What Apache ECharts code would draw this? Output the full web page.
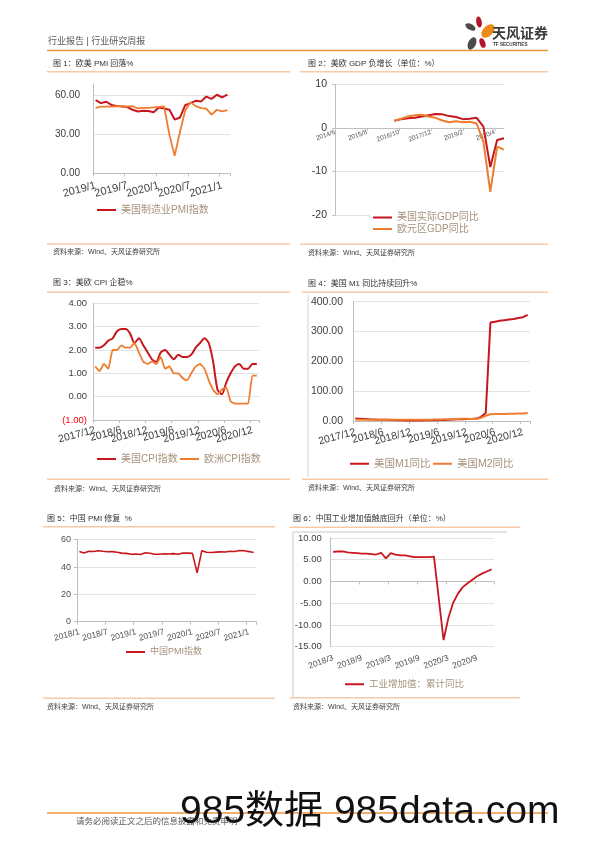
<!DOCTYPE html>
<html><head><meta charset="utf-8">
<script src="https://cdn.jsdelivr.net/npm/echarts@6/dist/echarts.min.js"></script>
<style>html,body{margin:0;padding:0;background:#fff}#c{width:596px;height:842px}</style>
</head><body><div id="c"></div>
<script>
function monthRange(y, m, n) { var out = []; for (var i = 0; i < n; i++) { out.push(y + '/' + m); m++; if (m > 12) { m = 1; y++; } } return out; }

// ---- Chart 1: US / Euro PMI ----
var pmiMonths = monthRange(2019, 1, 26);
var usIsmPmi = [56.6,54.2,55.3,52.8,52.1,51.7,51.2,49.1,47.8,48.3,48.1,47.2,50.9,50.1,49.1,41.5,43.1,52.6,54.2,56.0,55.4,59.3,57.5,60.7,58.7,60.8];
var euroPmi  = [50.5,51.5,51.5,51.5,51.8,52.0,51.5,51.9,50.1,50.6,50.6,50.9,51.3,51.6,29.7,13.6,31.9,48.5,54.9,51.9,50.4,50.0,45.3,49.1,47.8,48.8];

// ---- Chart 2: GDP YoY (quarterly, placed on a monthly axis) ----
var gdpMonths = monthRange(2014, 6, 75);
var gdpFirstMonth = '2016/8';
var gdpTickLabels = ['2014/6', '2015/8', '2016/10', '2017/12', '2019/2', '2020/4'];
var usGdpQ = [1.6,2.0,2.2,2.3,2.6,2.9,3.2,3.1,2.7,2.5,2.0,2.1,2.3,0.3,-9.0,-2.8,-2.4];
var euGdpQ = [1.7,2.1,2.6,2.9,3.0,2.6,2.3,1.7,1.3,1.5,1.3,1.4,1.0,-3.2,-14.7,-4.3,-5.0];

// ---- Chart 3: CPI ----
var cpiMonths = monthRange(2017, 12, 38);
var usCpi = [2.1,2.1,2.2,2.4,2.5,2.8,2.9,2.9,2.7,2.3,2.5,2.2,1.9,1.6,1.5,1.9,2.0,1.8,1.6,1.8,1.7,1.7,1.8,2.1,2.3,2.5,2.3,1.5,0.3,0.1,0.6,1.0,1.3,1.4,1.2,1.2,1.4,1.4];
var euCpi = [1.3,1.1,1.4,1.2,2.0,2.0,2.2,2.1,2.1,2.3,1.9,1.5,1.4,1.5,1.4,1.7,1.2,1.3,1.0,1.0,0.8,0.7,1.0,1.3,1.4,1.2,0.7,0.3,0.1,0.3,0.4,-0.2,-0.3,-0.3,-0.3,-0.3,0.9,0.9];

// ---- Chart 4: M1 / M2 ----
var moneyMonths = monthRange(2017, 12, 38);
var usM1 = [8.5,7.5,6.5,5.5,5.0,4.5,4.0,3.8,3.5,2.8,2.5,2.0,2.2,2.0,1.8,2.2,2.5,2.8,3.2,3.5,4.5,5.0,5.5,6.0,6.5,7.0,8.0,14.0,27.0,330,333,336,338,340,342,345,348,356];
var usM2 = [5.0,4.5,4.3,4.0,4.0,4.0,4.0,4.0,3.8,3.8,3.8,4.0,4.0,4.0,4.2,4.3,4.5,4.8,5.0,5.5,6.2,6.5,7.0,7.5,7.5,7.0,7.5,10.5,17.5,22.5,23.5,23.5,23.5,24.0,24.5,25.0,25.5,26.5];

// ---- Chart 5: China PMI ----
var cnMonths = monthRange(2018, 1, 38);
var cnPmi = [51.3,50.3,51.5,51.4,51.9,51.5,51.2,51.3,50.8,50.2,50.0,49.4,49.5,49.2,50.5,50.1,49.4,49.4,49.7,49.5,49.8,49.3,50.2,50.2,50.0,35.7,52.0,50.8,50.6,50.9,51.1,51.0,51.5,51.4,52.1,51.9,51.3,50.6];

// ---- Chart 6: China industrial value added, cumulative YoY ----
var ipMonths = monthRange(2018, 3, 34);
var cnIp = [6.8,6.9,6.9,6.7,6.6,6.5,6.4,6.4,6.3,6.2,6.6,5.3,6.5,6.2,6.0,6.0,5.8,5.6,5.6,5.6,5.6,5.7,null,-13.5,-8.4,-4.9,-2.8,-1.3,-0.4,0.4,1.2,1.8,2.3,2.8];

function placeQuarterly(cats, first, vals) {
  var arr = cats.map(function () { return null; });
  var start = cats.indexOf(first);
  vals.forEach(function (v, k) { arr[start + 3 * k] = v; });
  return arr;
}

var FONT = "'Liberation Sans', Arial, 'Noto Sans CJK SC', sans-serif";
var RED = '#c8161e', ORANGE = '#ee7d2e';
var AXIS = '#bfbfbf', GRIDC = '#e2e2e2', LAB = '#404040', LEG = '#a6927b';
var PEACH = '#f8c9a6', HEADOR = '#f0953c';

var grids = [
  { left: 93, top: 84, width: 137, height: 89.3 },
  { left: 335, top: 84.3, width: 169, height: 130.7 },
  { left: 93, top: 303.3, width: 166, height: 116.7 },
  { left: 353, top: 301.7, width: 177, height: 119.3 },
  { left: 77, top: 539.7, width: 179, height: 82 },
  { left: 330.7, top: 538, width: 163.3, height: 108.7 }
];

// main category axis: line, ticks every 6 months, labels on one half of the 6-month ticks
function xCat(gi, cats, opt) {
  return {
    type: 'category', gridIndex: gi, data: cats, boundaryGap: opt.bg !== false, position: 'bottom',
    offset: opt.offset || 0,
    axisLine: { onZero: !!opt.zeroIdx || opt.zeroIdx === 0, onZeroAxisIndex: opt.zeroIdx, lineStyle: { color: AXIS, width: 1 } },
    axisTick: { show: true, interval: opt.tickIv, length: 3, lineStyle: { color: AXIS } },
    axisLabel: { interval: opt.labIv, rotate: opt.rot, fontSize: opt.fs, color: opt.color || LAB, margin: opt.margin,
      fontFamily: FONT, hideOverlap: false },
    splitLine: { show: false }
  };
}
// overlay axis carrying the other half of the labels (so overlapping rotated labels all stay visible)
function xOverlay(gi, cats, opt) {
  var a = xCat(gi, cats, opt);
  a.axisLine.show = false;
  a.axisTick.show = false;
  a.axisLabel.interval = opt.labIv2;
  return a;
}
function yVal(gi, min, max, iv, fmt, opt) {
  return {
    type: 'value', gridIndex: gi, min: min, max: max, interval: iv,
    axisLine: { show: true, onZero: false, lineStyle: { color: AXIS, width: 1 } },
    axisTick: { show: !!opt.tick, length: 3, lineStyle: { color: AXIS } },
    axisLabel: { formatter: fmt, fontSize: opt.fs, color: opt.color || LAB, margin: opt.margin, showMaxLabel: opt.showMax !== false, fontFamily: FONT },
    splitLine: { show: true, showMaxLine: opt.showMax !== false, lineStyle: { color: GRIDC, width: 1 } }
  };
}
function fix2(v) { return Number(v).toFixed(2); }
function line(name, xi, yi, data, color, w, extra) {
  var s = { type: 'line', name: name, xAxisIndex: xi, yAxisIndex: yi, data: data, symbol: 'none',
    lineStyle: { color: color, width: w }, itemStyle: { color: color }, connectNulls: true, z: 3 };
  for (var k in (extra || {})) s[k] = extra[k];
  return s;
}
function leg(name, left, top, fs, extra) {
  var l = { data: [name], left: left, top: top, icon: 'rect', itemWidth: 19, itemHeight: 2, padding: 0,
    textStyle: { color: LEG, fontSize: fs, fontFamily: FONT } };
  for (var k in (extra || {})) l[k] = extra[k];
  return l;
}
function txt(x, y, text, size, color, extra) {
  return { type: 'text', x: x, y: y, silent: true, z: 10,
    style: { text: text, font: (extra && extra.weight ? extra.weight + ' ' : '') + size + 'px ' + FONT, fill: color,
      verticalAlign: 'middle', textVerticalAlign: 'middle', align: 'left', textAlign: 'left' } };
}
function hline(x1, x2, y, color, w) {
  return { type: 'line', silent: true, shape: { x1: x1, y1: y, x2: x2, y2: y }, style: { stroke: color, lineWidth: w } };
}
function vline(x, y1, y2, color, w) {
  return { type: 'line', silent: true, shape: { x1: x, y1: y1, x2: x, y2: y2 }, style: { stroke: color, lineWidth: w } };
}
function petal(x, y, r, sx, rotDeg, color) {
  return { type: 'circle', silent: true, x: x, y: y, scaleX: sx, rotation: rotDeg * Math.PI / 180,
    shape: { cx: 0, cy: 0, r: r }, style: { fill: color } };
}

var every6 = 5;
function labA(i) { return i % 12 === 0; }
function labB(i) { return i % 12 === 6; }
function gdpLab(i, v) { return gdpTickLabels.indexOf(v) >= 0; }

var gdpMin = -20, gdpMax = 10;
var gdpZeroOffset = -grids[1].height * (0 - gdpMin) / (gdpMax - gdpMin);

var c1 = { tickIv: every6, labIv: labA, labIv2: labB, rot: 15, fs: 11, margin: 12 };
var c3 = { tickIv: every6, labIv: labA, labIv2: labB, rot: 15, fs: 10.5, margin: 10 };
var c4 = { tickIv: every6, labIv: labA, labIv2: labB, rot: 15, fs: 10.5, margin: 11 };
var c5 = { tickIv: every6, labIv: labA, labIv2: labB, rot: 15, fs: 8.5, margin: 10, color: '#505050' };
var c6 = { tickIv: every6, labIv: labA, labIv2: labB, rot: 20, fs: 8.5, margin: 11, color: '#505050', zeroIdx: 5 };

var SRC = '资料来源：Wind、天风证券研究所';

var option = {
  animation: false,
  textStyle: { fontFamily: FONT },
  grid: grids,
  xAxis: [
    xCat(0, pmiMonths, c1),
    xCat(1, gdpMonths, { tickIv: gdpLab, labIv: gdpLab, rot: 20, fs: 6.5, margin: 4, bg: false, color: '#595959', offset: gdpZeroOffset }),
    xCat(2, cpiMonths, c3),
    xCat(3, moneyMonths, c4),
    xCat(4, cnMonths, c5),
    xCat(5, ipMonths, c6),
    xOverlay(0, pmiMonths, c1),
    xOverlay(2, cpiMonths, c3),
    xOverlay(3, moneyMonths, c4),
    xOverlay(4, cnMonths, c5),
    xOverlay(5, ipMonths, c6)
  ],
  yAxis: [
    yVal(0, 0, 69, 30, fix2, { fs: 10, margin: 13, showMax: false }),
    yVal(1, gdpMin, gdpMax, 10, function (v) { return String(v); }, { fs: 10.5, margin: 8, tick: true, color: '#333' }),
    (function () {
      var a = yVal(2, -1, 4, 1, function (v) { return v < 0 ? '(' + Math.abs(v).toFixed(2) + ')' : v.toFixed(2); }, { fs: 9.5, margin: 6 });
      a.axisLabel.color = function (v) { return parseFloat(v) < 0 ? '#ff0000' : LAB; };
      return a;
    })(),
    yVal(3, 0, 400, 100, fix2, { fs: 10.5, margin: 10 }),
    yVal(4, 0, 60, 20, function (v) { return String(v); }, { fs: 9, margin: 6, tick: true, color: '#505050' }),
    yVal(5, -15, 10, 5, fix2, { fs: 9.5, margin: 9, color: '#404040' })
  ],
  legend: [
    leg('美国制造业PMI指数', 97, 205, 10),
    leg('美国实际GDP同比', 370, 210.5, 10, { padding: [2, 30, 1, 3], backgroundColor: '#fff' }),
    leg('欧元区GDP同比', 370, 223, 10, { padding: [1, 30, 2, 3], backgroundColor: '#fff' }),
    leg('美国CPI指数', 97, 454, 10),
    leg('欧洲CPI指数', 180, 454, 10),
    leg('美国M1同比', 350, 458.5, 10.5),
    leg('美国M2同比', 433, 458.5, 10.5),
    leg('中国PMI指数', 126, 647.5, 9),
    leg('工业增加值：累计同比', 345, 679.5, 9.5)
  ],
  series: [
    line('美国制造业PMI指数', 0, 0, usIsmPmi, RED, 2),
    line('欧元区综合PMI', 0, 0, euroPmi, ORANGE, 1.8),
    line('美国实际GDP同比', 1, 1, placeQuarterly(gdpMonths, gdpFirstMonth, usGdpQ), RED, 2),
    line('欧元区GDP同比', 1, 1, placeQuarterly(gdpMonths, gdpFirstMonth, euGdpQ), ORANGE, 2),
    line('美国CPI指数', 2, 2, usCpi, RED, 2, { smooth: 0.25 }),
    line('欧洲CPI指数', 2, 2, euCpi, ORANGE, 1.8, { smooth: 0.15 }),
    line('美国M1同比', 3, 3, usM1, RED, 2),
    line('美国M2同比', 3, 3, usM2, ORANGE, 2),
    line('中国PMI指数', 4, 4, cnPmi, RED, 1.6),
    line('工业增加值：累计同比', 5, 5, cnIp, RED, 1.8)
  ],
  graphic: { elements: [
    txt(48, 42, '行业报告 | 行业研究周报', 9, '#595959'),
    hline(47, 548, 50.5, HEADOR, 1.6),
    petal(479, 22, 5.5, 0.5, 10, '#b5122b'),
    petal(488, 31, 8, 0.62, -45, '#ee8a1a'),
    petal(470.5, 27, 5.5, 0.55, 60, '#4a4a4a'),
    petal(472, 43.5, 6.5, 0.6, -25, '#4a4a4a'),
    petal(482.5, 43, 5, 0.55, 20, '#b5122b'),
    txt(492, 34, '天风证券', 14, '#3a3a3a', { weight: 'bold' }),
    txt(493, 45, 'TF SECURITIES', 4.6, '#3a3a3a', { weight: 'bold' }),
    txt(53, 64, '图 1：欧美 PMI 回落%', 8, '#333'),
    txt(308, 64, '图 2：美欧 GDP 负增长（单位：%）', 8, '#333'),
    txt(53, 283, '图 3：美欧 CPI 企稳%', 8, '#333'),
    txt(308, 284, '图 4：美国 M1 同比持续回升%', 8, '#333'),
    txt(47, 519, '图 5：中国 PMI 修复  %', 8, '#333'),
    txt(293, 519, '图 6：中国工业增加值触底回升（单位：%）', 8, '#333'),
    hline(47, 290, 71.7, PEACH, 1.5),
    hline(300, 548, 71.7, PEACH, 1.5),
    hline(47, 290, 292.3, PEACH, 1.5),
    hline(302, 548, 292.3, PEACH, 1.5),
    hline(43, 275, 526.7, PEACH, 1.5),
    hline(290, 520, 527.3, PEACH, 1.5),
    hline(47, 290, 244, PEACH, 1.5),
    hline(300, 548, 244.3, PEACH, 1.5),
    hline(47, 290, 479.3, PEACH, 1.5),
    hline(302, 548, 479.3, PEACH, 1.5),
    hline(43, 275, 698.3, PEACH, 1.5),
    hline(290, 520, 697.7, PEACH, 1.5),
    vline(308, 295, 477, '#d4d4d4', 1),
    vline(293, 532, 697, '#c8c8c8', 1),
    hline(293, 507, 532, '#c8c8c8', 1),
    txt(53, 252, SRC, 7, '#404040'),
    txt(308, 253, SRC, 7, '#404040'),
    txt(54, 489, SRC, 7, '#404040'),
    txt(308, 488, SRC, 7, '#404040'),
    txt(47, 707, SRC, 7, '#404040'),
    txt(293, 707, SRC, 7, '#404040'),
    hline(47, 548, 813, HEADOR, 1.3),
    txt(76, 822, '请务必阅读正文之后的信息披露和免责申明', 8.5, '#595959'),
    txt(180, 812, '985数据 985data.com', 39, '#111111')
  ] }
};

var chart = echarts.init(document.getElementById('c'), null, { renderer: 'canvas' });
chart.setOption(option);
</script>
</body></html>
